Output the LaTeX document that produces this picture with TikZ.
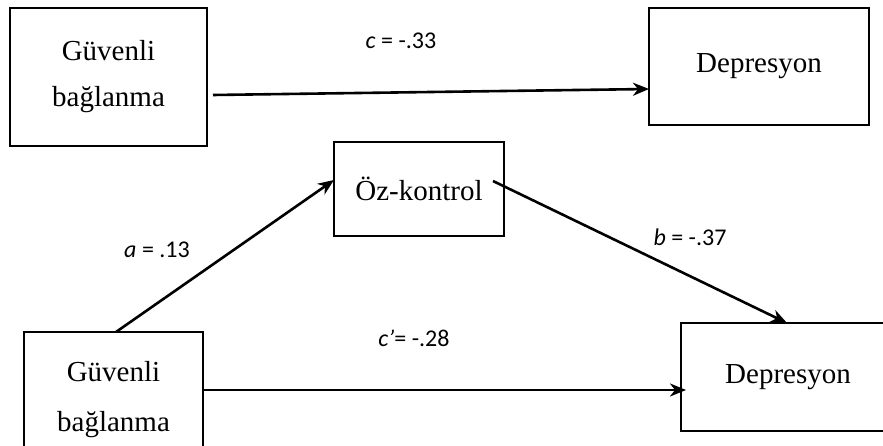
\documentclass[tikz,border=0pt]{standalone}
\usepackage{fontspec}
\setmainfont{Liberation Serif}
\newfontfamily\labfont{Carlito}
\usetikzlibrary{arrows.meta}
\begin{document}
\begin{tikzpicture}[x=1pt,y=-1pt,
  box/.style={draw=black,line width=1.5pt,fill=white,inner sep=0pt,align=center,
    font=\fontsize{29}{46}\selectfont},
  conn/.style={line width=2.6pt,-{Stealth[length=16pt,width=13pt,inset=5pt]}},
  lab/.style={font=\labfont\fontsize{24}{28}\selectfont,inner sep=0pt}]
\useasboundingbox (0,0) rectangle (883,446);
\clip (0,0) rectangle (883,446);
\fill[white] (0,0) rectangle (883,446);
% boxes
\node[box,minimum width=197pt,minimum height=138pt] (tl) at (108.5,77) {Güvenli\\bağlanma};
\node[box,minimum width=220pt,minimum height=117pt] (tr) at (759,66.5) {Depresyon};
\node[box,minimum width=170pt,minimum height=94pt] (oz) at (419,189) {Öz-kontrol};
\node[box,minimum width=179pt,minimum height=136pt,font=\fontsize{29}{50}\selectfont] (bl) at (113.5,400) {Güvenli\\bağlanma};
\node[box,minimum width=214pt,minimum height=108pt] (br) at (788,377) {Depresyon};
% connector end points
\coordinate (p1) at (213,95);
\coordinate (p2) at (649,89);
\coordinate (p3) at (116,332);
\coordinate (p4) at (334,180);
\coordinate (p5) at (493,181);
\coordinate (p6) at (787,323);
\coordinate (p7) at (203,390);
\coordinate (p8) at (686,390);
\draw[conn] (p1) -- (p2);
\draw[conn] (p3) -- (p4);
\draw[conn] (p5) -- (p6);
\draw[conn] (p7) -- (p8);
% labels
\node[lab] (lc) at (401,41) {\itshape c\upshape{} = -.33};
\node[lab] (la) at (157,250) {\itshape a\upshape{} = .13};
\node[lab] (lb) at (690,237) {\itshape b\upshape{} = -.37};
\node[lab] (lcp) at (414,338) {\itshape c’\upshape= -.28};
\end{tikzpicture}
\end{document}
